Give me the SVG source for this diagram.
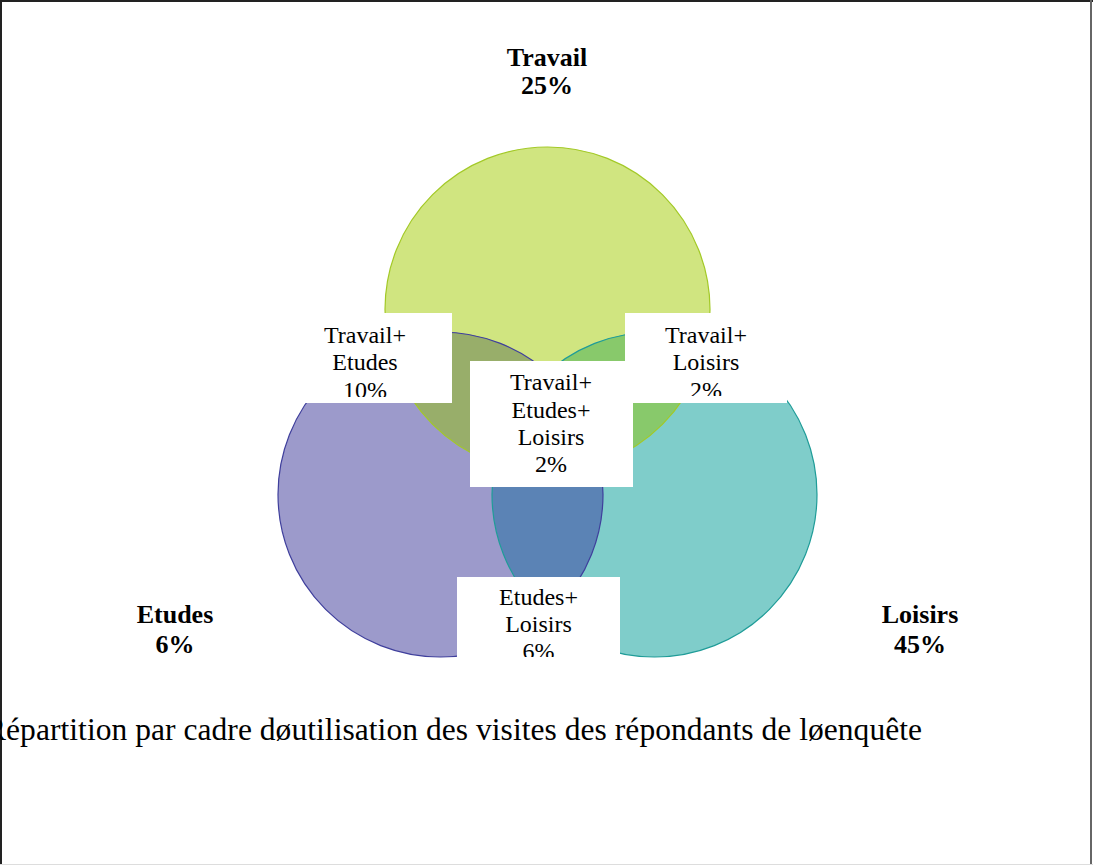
<svg xmlns="http://www.w3.org/2000/svg" width="1093" height="865" viewBox="0 0 1093 865">
<style>
.lbl{font-family:"Liberation Serif","Times New Roman",serif;font-size:24px;fill:#000;text-anchor:middle}
.big{font-family:"Liberation Serif","Times New Roman",serif;font-size:26px;font-weight:bold;fill:#000;text-anchor:middle}
.title{font-family:"Liberation Serif","Times New Roman",serif;font-size:31.5px;fill:#000}
.box{fill:#fff}
.ol{fill:none;stroke-width:1.2}
</style>
<defs>
<clipPath id="cT"><circle cx="547.5" cy="309.5" r="162.5"/></clipPath>
<clipPath id="cE"><circle cx="440.5" cy="494.5" r="162.5"/></clipPath>
<clipPath id="cL"><circle cx="654.5" cy="494.5" r="162.5"/></clipPath>
<clipPath id="bTE"><rect x="278" y="313" width="174" height="84"/></clipPath>
<clipPath id="bTL"><rect x="625" y="313" width="162" height="83"/></clipPath>
<clipPath id="bC"><rect x="470" y="361" width="163" height="126"/></clipPath>
<clipPath id="bEL"><rect x="457" y="577" width="163" height="80"/></clipPath>
</defs>
<rect x="0" y="0" width="1093" height="865" fill="#fff"/>
<g id="frame">
<line x1="0" y1="1" x2="1093" y2="1" stroke="#222" stroke-width="2"/>
<line x1="1" y1="0" x2="1" y2="865" stroke="#222" stroke-width="2"/>
<line x1="1091" y1="0" x2="1091" y2="865" stroke="#666" stroke-width="2"/>
<line x1="0" y1="864.5" x2="1093" y2="864.5" stroke="#ddd" stroke-width="1"/>
</g>
<g id="venn">
<g id="travail"><circle cx="547.5" cy="309.5" r="162.5" fill="#d0e580"/></g>
<g id="etudes"><circle cx="440.5" cy="494.5" r="162.5" fill="#9c9acb"/></g>
<g id="loisirs"><circle cx="654.5" cy="494.5" r="162.5" fill="#7fcdca"/></g>
<g id="travail-etudes" clip-path="url(#cT)"><circle cx="440.5" cy="494.5" r="162.5" fill="#98ae6a"/></g>
<g id="travail-loisirs" clip-path="url(#cT)"><circle cx="654.5" cy="494.5" r="162.5" fill="#88c96b"/></g>
<g id="etudes-loisirs" clip-path="url(#cE)"><circle cx="654.5" cy="494.5" r="162.5" fill="#5b83b5"/></g>
<g id="travail-etudes-loisirs" clip-path="url(#cT)"><g clip-path="url(#cE)"><circle cx="654.5" cy="494.5" r="162.5" fill="#6f9a8f"/></g></g>
<g id="outlines">
<circle class="ol" cx="547.5" cy="309.5" r="162.5" stroke="#a3c927"/>
<circle class="ol" cx="440.5" cy="494.5" r="162.5" stroke="#3f3f9c"/>
<circle class="ol" cx="654.5" cy="494.5" r="162.5" stroke="#1f9c98"/>
</g>
</g>
<g id="label-travail"><text class="big" x="547" y="65.7">Travail</text><text class="big" x="547" y="94">25%</text></g>
<g id="label-etudes"><text class="big" x="175" y="623.3">Etudes</text><text class="big" x="175" y="652.7">6%</text></g>
<g id="label-loisirs"><text class="big" x="920" y="623.3">Loisirs</text><text class="big" x="920" y="652.7">45%</text></g>
<g id="label-te">
<rect class="box" x="278" y="313" width="174" height="90"/>
<g clip-path="url(#bTE)"><text class="lbl" x="365" y="342.7">Travail+</text><text class="lbl" x="365" y="370">Etudes</text><text class="lbl" x="365" y="398">10%</text></g>
</g>
<g id="label-tl">
<rect class="box" x="625" y="313" width="162" height="90"/>
<g clip-path="url(#bTL)"><text class="lbl" x="706" y="342.7">Travail+</text><text class="lbl" x="706" y="370">Loisirs</text><text class="lbl" x="706" y="398">2%</text></g>
</g>
<g id="label-tel">
<rect class="box" x="470" y="361" width="163" height="126"/>
<g clip-path="url(#bC)"><text class="lbl" x="551" y="390.3">Travail+</text><text class="lbl" x="551" y="417.6">Etudes+</text><text class="lbl" x="551" y="445">Loisirs</text><text class="lbl" x="551" y="472.3">2%</text></g>
</g>
<g id="label-el">
<rect class="box" x="457" y="577" width="163" height="81"/>
<g clip-path="url(#bEL)"><text class="lbl" x="538.5" y="605">Etudes+</text><text class="lbl" x="538.5" y="631.7">Loisirs</text><text class="lbl" x="538.5" y="659">6%</text></g>
</g>
<g id="caption"><text class="title" x="-15" y="740" textLength="937" lengthAdjust="spacing">Répartition par cadre døutilisation des visites des répondants de løenquête</text></g>
</svg>
